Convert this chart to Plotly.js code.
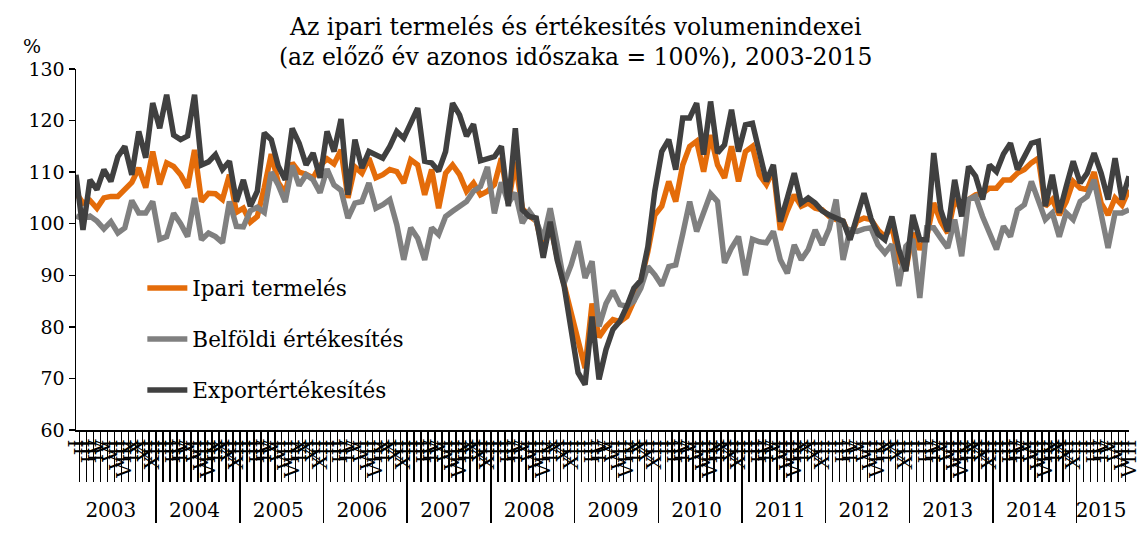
<!DOCTYPE html>
<html>
<head>
<meta charset="utf-8">
<script src="https://cdn.plot.ly/plotly-3.0.1.min.js"></script>
<style>html,body{margin:0;padding:0;background:#fff;}#chart{width:1140px;height:536px;}</style>
</head>
<body>
<div id="chart"></div>
<script>
const years = ['2003','2004','2005','2006','2007','2008','2009','2010','2011','2012','2013','2014','2015'];
const monthLabels = ['I','II','III','IV','V','VI','VII','VIII','IX','X','XI','XII'];
const monthsInLastYear = 8;

const ipariTermeles = [
  106, 104, 104.5, 103, 105, 105.3, 105.3, 106.6, 108, 110.8, 107, 114,
  107.6, 111.8, 111.1, 109.5, 107, 114.3, 104.3, 105.9, 105.8, 104.7, 109.5, 102.2,
  103, 100.3, 101.4, 107, 113.5, 108, 106, 111.8, 110, 109.6, 108.9, 111.3,
  112.6, 111.6, 114.3, 105, 111, 109.8, 112.7, 108.9, 109.5, 110.5, 110.1, 107.9,
  112.4, 111.4, 105.6, 110.5, 103, 109.8, 111.4, 109.5, 106.3, 107.9, 105.6, 106.3,
  107.6, 112.7, 104, 112, 103, 101.5, 100.5, 95, 100, 93.5, 88, 82,
  77, 72, 84.5, 78, 80, 81.4, 81, 82, 85, 88.8, 94.6, 101.7,
  103.4, 108.2, 104.3, 111.4, 115, 116, 110.1, 117.2, 111.4, 108.9, 115, 108.2,
  114, 115, 109.5, 107.6, 110.5, 98.8, 102.5, 105.6, 103.4, 104, 103, 102.7,
  101.4, 100.8, 100.5, 97.5, 100.5, 101.1, 100.8, 98.8, 97.5, 99.5, 93, 91.1,
  98.2, 95, 97.5, 104, 100.4, 98.2, 104.7, 102.7, 104.7, 105.6, 105.9, 106.9,
  106.9, 108.5, 108.5, 109.8, 110.5, 111.8, 112.7, 103.4, 104.7, 101.7, 104.3, 108.2,
  106.9, 106.6, 110, 104, 101.7, 105, 103.6, 106.6
];

const belfoldiErtekesites = [
  101.5, 101, 101.5, 100.5, 99, 100.4, 98.2, 99.2, 104.5, 102.1, 102.1, 104.3,
  97, 97.5, 102, 100, 97.5, 105, 96.9, 98.2, 97.5, 96.3, 104.3, 99.5,
  99.4, 102.5, 103.2, 102.2, 110, 107.5, 104.2, 111.3, 107.4, 109.5, 108.5, 106,
  110.6, 107.5, 106.5, 101.1, 104, 104.3, 107.9, 103, 103.7, 104.7, 99.8, 93,
  99.2, 97.2, 93, 99.2, 97.9, 101.4, 102.4, 103.4, 104.3, 106.3, 107.2, 111,
  102, 108, 104, 106, 100.1, 102.4, 100.5, 97, 103, 96, 88.5, 92,
  96.6, 89.5, 92.7, 80.1, 84.5, 87, 84.3, 84, 85, 87.5, 91.7, 90.1,
  88, 91.7, 92, 98, 104.3, 98.5, 102.4, 105.8, 104.3, 92.4, 95.3, 97.5,
  90, 97, 96.5, 96.3, 98.5, 93, 90.4, 95.9, 93, 95, 98.8, 95.9,
  99, 104.7, 93, 98.8, 98.5, 99, 99.2, 95.9, 94.3, 96, 87.9, 95.6,
  97, 85.6, 99.2, 99.2, 97.2, 95.3, 100.8, 93.7, 104.7, 105.3, 101.4, 97.9,
  95, 99.5, 97.5, 102.7, 103.7, 108.2, 104.3, 100.8, 102.1, 97.5, 102.1, 100.8,
  104.3, 105.3, 108.5, 102.1, 95.3, 102.1, 102.1, 102.7
];

const exportErtekesites = [
  109.5, 98.8, 108.5, 106.6, 110.5, 108.2, 113, 115, 109.5, 117.9, 112.8, 123.4,
  118.5, 125, 117.2, 116.3, 117, 125, 111.4, 112, 113.4, 110.5, 112.1, 104.3,
  108.5, 103.4, 106.3, 117.6, 116.3, 111.2, 108.5, 118.5, 115.6, 111.4, 113.7, 108.9,
  117.9, 114, 120.3, 105.6, 116.3, 110.8, 114, 113.4, 112.7, 115, 117.9, 116.6,
  119.5, 122.4, 112.1, 111.8, 110.2, 114, 123.4, 121.1, 117, 119.3, 112.2, 112.7,
  113, 115, 103.4, 118.5, 102.7, 101.4, 101.1, 93.4, 100.4, 93, 87.9, 79.5,
  71.1, 68.8, 82, 69.8, 75.6, 79.5, 81.1, 84, 87.5, 89, 95.5, 106.3,
  114, 116.3, 110.5, 120.5, 120.5, 123.4, 113.4, 123.7, 113.7, 115.3, 122.1, 114,
  119.2, 119.5, 113.7, 108.2, 111.4, 100.4, 105, 109.8, 104, 105, 104, 102.5,
  101.7, 101, 100.5, 96.9, 101, 105.9, 101, 98, 96.9, 101.4, 95, 90.8,
  101.7, 96.9, 96.9, 113.7, 102.7, 98.5, 108.5, 101.4, 111.1, 109.2, 104.7, 111.4,
  110.1, 113.5, 115.6, 110.5, 113, 115.6, 116, 103.4, 109.5, 102.1, 107.2, 112.1,
  107.9, 109.8, 113.7, 109.8, 104.7, 112.7, 104.7, 109.2
];

const seriesNames = ['Ipari termelés', 'Belföldi értékesítés', 'Exportértékesítés'];
const seriesColors = ['#E46C0A', '#808080', '#404040'];

const xYear = [], xMonth = [];
years.forEach((y, yi) => {
  const n = (yi === years.length - 1) ? monthsInLastYear : 12;
  for (let m = 0; m < n; m++) { xYear.push(y); xMonth.push(monthLabels[m]); }
});

const serif = 'DejaVu Serif, Liberation Serif, serif';
const data = [ipariTermeles, belfoldiErtekesites, exportErtekesites].map((vals, k) => ({
  type: 'scatter', mode: 'lines',
  x: [xYear, xMonth], y: vals,
  name: seriesNames[k], legendgroup: 'g' + k,
  line: {color: seriesColors[k], width: 5.5, shape: 'linear'}
}));

const layout = {
  width: 1140, height: 536,
  margin: {l: 76, r: 11, t: 69, b: 106},
  paper_bgcolor: '#fff', plot_bgcolor: '#fff',
  font: {family: serif, size: 19, color: '#000'},
  title: {text: 'Az ipari termelés és értékesítés volumenindexei<br>(az előző év azonos időszaka = 100%), 2003-2015',
          font: {family: serif, size: 23.5, color: '#000'}, x: 0.505, xanchor: 'center', y: 0.935, yanchor: 'top'},
  showlegend: true,
  legend: {x: 0.063, y: 0.45, xanchor: 'left', yanchor: 'top', bgcolor: 'rgba(0,0,0,0)',
           font: {family: serif, size: 21.5, color: '#000'}, tracegroupgap: 20, itemwidth: 40},
  xaxis: {type: 'multicategory', showline: true, linecolor: '#000', linewidth: 1.5,
          tickmode: 'linear', tick0: 0, dtick: 1,
          ticks: 'outside', ticklen: 50, tickcolor: '#000', tickwidth: 1.5,
          tickangle: -90, tickfont: {family: serif, size: 20, color: '#000'},
          showdividers: true, dividercolor: '#000', dividerwidth: 1.5,
          showgrid: false, zeroline: false, fixedrange: true},
  yaxis: {range: [60, 130], dtick: 10, tick0: 60, showline: true, linecolor: '#000', linewidth: 1.5,
          ticks: 'outside', ticklen: 6, tickcolor: '#000', tickwidth: 1.5,
          tickfont: {family: serif, size: 19, color: '#000'},
          showgrid: false, zeroline: false, fixedrange: true},
  annotations: [{text: '%', xref: 'paper', yref: 'paper', x: -0.042, y: 1.065, xanchor: 'center', yanchor: 'middle',
                 showarrow: false, font: {family: serif, size: 19, color: '#000'}}]
};

Plotly.newPlot('chart', data, layout, {displayModeBar: false, staticPlot: true});
</script>
</body>
</html>
